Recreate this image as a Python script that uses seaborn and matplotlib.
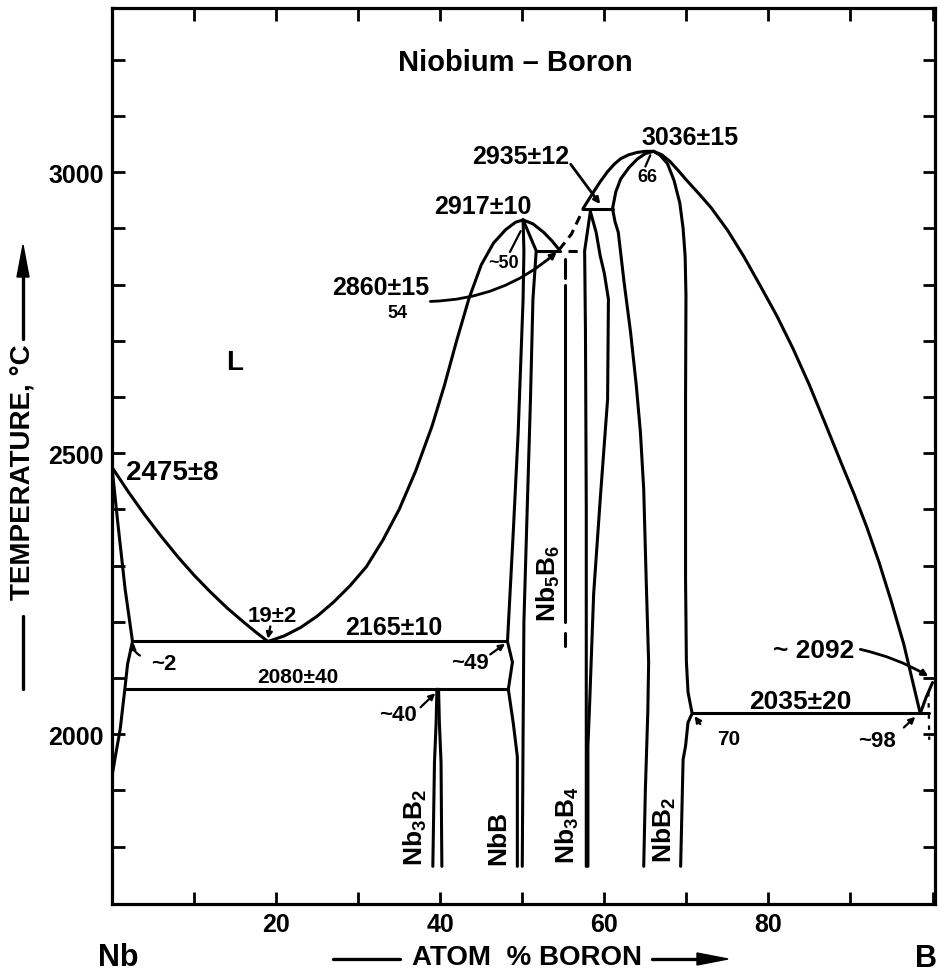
import matplotlib
matplotlib.use("Agg")
import matplotlib.pyplot as plt
import seaborn as sns

sns.set_style("ticks", {"axes.edgecolor": "black", "text.color": "black",
                        "xtick.color": "black", "ytick.color": "black",
                        "axes.labelcolor": "black"})
plt.rcParams['font.family'] = ['Liberation Sans', 'DejaVu Sans']
plt.rcParams['font.weight'] = 'bold'
plt.rcParams['text.color'] = 'black'
plt.rcParams['mathtext.fontset'] = 'custom'
plt.rcParams['mathtext.rm'] = 'Liberation Sans:bold'
plt.rcParams['mathtext.it'] = 'Liberation Sans:bold'
plt.rcParams['mathtext.bf'] = 'Liberation Sans:bold'

# ---------------- data (atom % B, temperature degC) ----------------
nb_liq_x = [0, 2, 4, 6, 8, 10, 12, 14, 16, 17.5, 19]
nb_liq_t = [2475, 2431, 2390, 2352, 2316, 2283, 2253, 2225, 2200, 2182, 2165]

nb_sol_x = [0, 0.7, 1.6, 2.5]
nb_sol_t = [2475, 2377, 2258, 2165]

nb_solv_x = [2.5, 1.9, 1.6, 1.0, 0.4, 0]
nb_solv_t = [2165, 2125, 2085, 2009, 1960, 1925]

nbb_liq_l_x = [19, 21, 23, 25, 27, 29, 31, 33, 35, 37, 39, 40.5, 42, 43.5,
               45, 46.5, 48, 49.2, 50.1]
nbb_liq_l_t = [2165, 2175, 2190, 2210, 2235, 2264, 2298, 2345, 2400, 2468,
               2548, 2620, 2700, 2775, 2835, 2874, 2898, 2911, 2915]

nbb_liq_r_x = [50.1, 51.3, 52.6, 53.6, 54.5]
nbb_liq_r_t = [2915, 2908, 2893, 2878, 2862]

nbb_left_x = [50.1, 50.2, 50.1, 49.5, 48.9, 48.2, 48.8, 48.3, 48.9, 49.4, 49.4]
nbb_left_t = [2915, 2860, 2774, 2537, 2359, 2165, 2128, 2080, 2020, 1960, 1765]

nbb_right_x = [50.1, 51.7, 51.3, 51.0, 50.6, 50.2, 50.1, 50.0]
nbb_right_t = [2915, 2860, 2774, 2596, 2400, 2200, 2000, 1765]

nb3b2_l_x = [39.6, 39.5, 39.3, 39.1]
nb3b2_l_t = [2080, 2020, 1950, 1765]
nb3b2_r_x = [39.8, 39.9, 40.1, 40.2]
nb3b2_r_t = [2080, 2020, 1950, 1765]

eut_2165_x = [2.5, 48.2]
eut_2165_t = [2165, 2165]
eut_2080_x = [1.6, 48.3]
eut_2080_t = [2080, 2080]

per_2860_solid_x = [51.7, 54.6]
per_2860_dash_x = [55.6, 57.6]
per_2860_t = [2860, 2860]

liq_dash_x = [54.5, 56.0, 57.4]
liq_dash_t = [2862, 2890, 2933]

nbb2_liq_l_x = [57.4, 58.0, 58.7, 59.5, 60.4, 61.2, 62.0, 63.0, 64.0, 65.0, 66.0]
nbb2_liq_l_t = [2935, 2949, 2965, 2983, 3001, 3014, 3024, 3031, 3035, 3037, 3037]

nbb2_liq_r_x = [66.0, 67.0, 68.0, 69.0, 70.0, 71.5, 73.0, 75.0, 77.0, 79.0, 81.0,
                83.0, 85.0, 87.0, 89.0, 90.5, 92.0, 93.5, 95.0, 96.5, 98.5]
nbb2_liq_r_t = [3037, 3031, 3019, 3003, 2986, 2962, 2937, 2897, 2850, 2798, 2745,
                2686, 2621, 2550, 2478, 2425, 2368, 2305, 2235, 2160, 2037]

per_2935_x = [57.4, 61.0]
per_2935_t = [2935, 2935]

nbb2_left_x = [66.0, 65.0, 64.0, 63.0, 62.0, 61.4, 61.0, 61.3, 61.7, 62.4, 63.2,
               63.9, 64.4, 64.8, 65.1, 65.4, 65.3, 65.0, 64.8]
nbb2_left_t = [3037, 3033, 3023, 3008, 2988, 2965, 2935, 2912, 2893, 2805, 2715,
               2620, 2537, 2436, 2276, 2128, 2040, 1900, 1765]

nbb2_right_x = [66.0, 66.8, 67.7, 68.5, 69.2, 69.6, 69.85, 69.95, 69.9, 69.9, 70.0,
                70.2, 70.7, 70.2, 69.9, 69.6, 69.3]
nbb2_right_t = [3037, 3030, 3015, 2985, 2945, 2900, 2850, 2780, 2601, 2276, 2130,
                2075, 2037, 2021, 1979, 1955, 1765]

nb3b4_l_x = [58.3, 57.6, 57.7, 57.8, 57.8]
nb3b4_l_t = [2930, 2860, 2720, 2400, 1765]
nb3b4_r_x = [58.3, 59.0, 59.5, 60.0, 60.5, 60.4, 59.5, 58.7, 58.2, 58.0, 58.0]
nb3b4_r_t = [2930, 2893, 2851, 2820, 2774, 2596, 2418, 2250, 2050, 1979, 1765]

nb5b6_x = [55.2, 55.2]
nb5b6_solid_t = [2800, 2200]
nb5b6_top_t = [2845, 2812]
nb5b6_bot_t = [2180, 2157]

eut_2035_x = [70.7, 99.6]
eut_2035_t = [2037, 2037]

b_liq_x = [98.5, 99.2, 100.0]
b_liq_t = [2037, 2065, 2092]

b_solv_x = [99.5, 99.6]
b_solv_t = [2075, 1990]

x_ticks = list(range(0, 101, 10))
x_tick_labels = ['', '', '20', '', '40', '', '60', '', '80', '', '']
y_ticks = list(range(1800, 3201, 100))
y_tick_labels = ['' if t not in (2000, 2500, 3000) else str(t) for t in y_ticks]

# ---------------- figure ----------------
W, H = 940, 979
fig = plt.figure(figsize=(W / 100, H / 100), dpi=100)
ax = fig.add_axes([112 / W, 1 - 905 / H, 823 / W, 896 / H])
ax.set_xlim(0, 100.3)
ax.set_ylim(1698, 3292)

LW = 2.2
def curve(x, t, **kw):
    sns.lineplot(x=x, y=t, sort=False, estimator=None, color='black',
                 linewidth=kw.pop('lw', LW), ax=ax, solid_joinstyle='round',
                 solid_capstyle='round', **kw)

for xs, ts in [(nb_liq_x, nb_liq_t), (nb_sol_x, nb_sol_t), (nb_solv_x, nb_solv_t),
               (nbb_liq_l_x, nbb_liq_l_t), (nbb_liq_r_x, nbb_liq_r_t),
               (nbb_left_x, nbb_left_t), (nbb_right_x, nbb_right_t),
               (nb3b2_l_x, nb3b2_l_t), (nb3b2_r_x, nb3b2_r_t),
               (eut_2165_x, eut_2165_t), (eut_2080_x, eut_2080_t),
               (per_2860_solid_x, per_2860_t),
               (nbb2_liq_l_x, nbb2_liq_l_t), (nbb2_liq_r_x, nbb2_liq_r_t),
               (per_2935_x, per_2935_t), (nbb2_left_x, nbb2_left_t),
               (nbb2_right_x, nbb2_right_t), (nb3b4_l_x, nb3b4_l_t),
               (nb3b4_r_x, nb3b4_r_t), (nb5b6_x, nb5b6_solid_t),
               (nb5b6_x, nb5b6_top_t), (nb5b6_x, nb5b6_bot_t),
               (eut_2035_x, eut_2035_t), (b_liq_x, b_liq_t)]:
    curve(xs, ts)

curve(per_2860_dash_x, per_2860_t, linestyle=(0, (3, 2)))
curve(liq_dash_x, liq_dash_t, linestyle=(0, (3, 2)))
curve(b_solv_x, b_solv_t, linestyle=(0, (2, 3)), lw=1.6)

# ---------------- axes styling ----------------
for s in ax.spines.values():
    s.set_linewidth(2.3)
    s.set_color('black')
ax.set_xticks(x_ticks)
ax.set_xticklabels(x_tick_labels)
ax.set_yticks(y_ticks)
ax.set_yticklabels(y_tick_labels)
ax.tick_params(direction='in', length=9, width=2, top=True, right=True,
               labelsize=18, pad=6, colors='black')
ax.set_xlabel('')
ax.set_ylabel('')

# ---------------- labels ----------------
def lab(x, t, s, size=18, **kw):
    ax.text(x, t, s, fontsize=size, fontweight='bold', ha='center', va='center',
            color='black', **kw)

lab(49.1, 3196, 'Niobium \u2013 Boron', 21)
lab(15, 2662, 'L', 20)
lab(7.4, 2466, '2475\u00b18', 20)
lab(19.5, 2212, '19\u00b12', 16)
lab(34.3, 2190, '2165\u00b110', 18)
lab(6.3, 2125, '~2', 16)
lab(22.7, 2103, '2080\u00b140', 15)
lab(34.8, 2036, '~40', 16)
lab(43.6, 2128, '~49', 16)
lab(37.0, 1836, 'Nb$_3$B$_2$', 19, rotation=90)
lab(47.1, 1817, 'NbB', 19, rotation=90)
lab(55.5, 1840, 'Nb$_3$B$_4$', 19, rotation=90)
lab(67.3, 1831, 'NbB$_2$', 19, rotation=90)
lab(53.2, 2270, 'Nb$_5$B$_6$', 19, rotation=90)
lab(75.1, 1993, '70', 15)
lab(93.2, 1988, '~98', 16)
lab(83.9, 2060, '2035\u00b120', 19)
lab(85.5, 2149, '~ 2092', 19)
lab(70.5, 3062, '3036\u00b115', 18)
lab(65.2, 2993, '66', 13)
lab(49.8, 3028, '2935\u00b112', 18)
lab(45.2, 2940, '2917\u00b110', 18)
lab(47.7, 2840, '~50', 13)
lab(32.7, 2795, '2860\u00b115', 18)
lab(34.8, 2751, '54', 13)

def ptr(xy_from, xy_to, rad=0.0, head=True, lw=1.6):
    ax.annotate('', xy=xy_to, xytext=xy_from,
                arrowprops=dict(arrowstyle='-|>' if head else '-', lw=lw, color='black',
                                mutation_scale=9, shrinkA=0, shrinkB=0,
                                connectionstyle=f'arc3,rad={rad}'))

ptr((3.4, 2140), (2.6, 2163), rad=-0.3)
ptr((19.3, 2192), (19.0, 2170))
ptr((37.6, 2048), (39.4, 2073))
ptr((46.1, 2142), (47.9, 2161))
ptr((71.7, 2018), (71.0, 2032))
ptr((96.5, 2012), (97.9, 2031))
ptr((91.2, 2151), (99.5, 2103), rad=-0.08, lw=2.0)
ptr((65.0, 3010), (65.6, 3030), head=False)
ptr((48.5, 2858), (49.8, 2895), head=False)
ptr((55.9, 3014), (59.5, 2943), lw=2.0)
ptr((38.8, 2770), (54.2, 2858), rad=0.18, lw=2.0)

# ---------------- axis titles ----------------
fig.text(23 / W, 1 - 472 / H, 'TEMPERATURE, \u00b0C', rotation=90, fontsize=20,
         fontweight='bold', ha='center', va='center', color='black')
fig.add_artist(plt.Line2D([23 / W, 23 / W], [1 - 617 / H, 1 - 690 / H],
                          color='black', lw=2.4))
fig.add_artist(plt.Line2D([23 / W, 23 / W], [1 - 340 / H, 1 - 275 / H],
                          color='black', lw=2.4))
fig.add_artist(matplotlib.patches.Polygon(
    [[17 / W, 1 - 278 / H], [29 / W, 1 - 278 / H], [23 / W, 1 - 246 / H]],
    closed=True, color='black', transform=fig.transFigure))

fig.text(527 / W, 1 - 958 / H, 'ATOM  % BORON', fontsize=20, fontweight='bold',
         ha='center', va='center', color='black')
fig.add_artist(plt.Line2D([333 / W, 400 / W], [1 - 960 / H, 1 - 960 / H],
                          color='black', lw=2.4))
fig.add_artist(plt.Line2D([652 / W, 700 / W], [1 - 960 / H, 1 - 960 / H],
                          color='black', lw=2.4))
fig.add_artist(matplotlib.patches.Polygon(
    [[697 / W, 1 - 954 / H], [697 / W, 1 - 966 / H], [728 / W, 1 - 960 / H]],
    closed=True, color='black', transform=fig.transFigure))
fig.text(118 / W, 1 - 958 / H, 'Nb', fontsize=22, fontweight='bold', ha='center',
         va='center', color='black')
fig.text(926 / W, 1 - 959 / H, 'B', fontsize=22, fontweight='bold', ha='center',
         va='center', color='black')

fig.savefig('out.png', dpi=100, facecolor='white')
